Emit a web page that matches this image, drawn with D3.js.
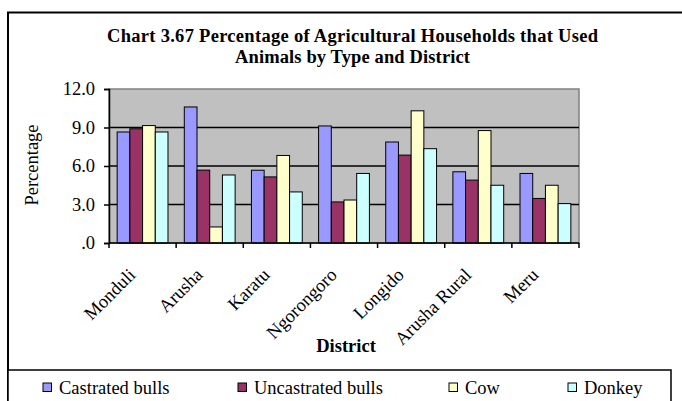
<!DOCTYPE html>
<html><head><meta charset="utf-8">
<script src="https://cdn.jsdelivr.net/npm/d3@7"></script>
<style>
html,body{margin:0;padding:0;background:#fff;}
svg{display:block;}
</style></head>
<body>
<svg id="chart" width="682" height="401" font-family="'Liberation Serif', 'Times New Roman', serif"></svg>
<script>
const categories = ["Monduli","Arusha","Karatu","Ngorongoro","Longido","Arusha Rural","Meru"];
const seriesNames = ["Castrated bulls","Uncastrated bulls","Cow","Donkey"];
const castratedBulls   = [8.65, 10.6, 5.67, 9.12, 7.87, 5.55, 5.42];
const uncastratedBulls = [8.9, 5.68, 5.15, 3.2, 6.85, 4.9, 3.47];
const cow              = [9.15, 1.25, 6.82, 3.35, 10.3, 8.76, 4.5];
const donkey           = [8.65, 5.3, 3.98, 5.42, 7.35, 4.5, 3.07];
const yTickValues = [0, 3, 6, 9, 12];
const yTickLabels = [".0", "3.0", "6.0", "9.0", "12.0"];
const colors = ["#9999FF", "#993366", "#FFFFCC", "#CCFFFF"];
const titleLines = ["Chart 3.67 Percentage of Agricultural Households that Used", "Animals by Type and District"];

const seriesValues = [castratedBulls, uncastratedBulls, cow, donkey];
const FONT = "'Liberation Serif', 'Times New Roman', serif";

const svg = d3.select("#chart");

// outer frame
svg.append("rect").attr("x", 8).attr("y", 12.5).attr("width", 700).attr("height", 400)
  .attr("fill", "#fff").attr("stroke", "#000").attr("stroke-width", 2);

// title
const title = svg.append("text").attr("text-anchor", "middle").attr("font-family", FONT)
  .attr("font-weight", "bold").attr("font-size", 18.5);
title.append("tspan").attr("x", 352.5).attr("y", 41.5)
  .attr("textLength", 491).attr("lengthAdjust", "spacing").text(titleLines[0]);
title.append("tspan").attr("x", 352.5).attr("y", 63)
  .attr("textLength", 235).attr("lengthAdjust", "spacing").text(titleLines[1]);

const plot = {left: 109, right: 579, top: 89, bottom: 243};

const x = d3.scaleBand().domain(categories).range([plot.left, plot.right]).padding(0);
const cw = x.bandwidth();
const xs = d3.scaleBand().domain(seriesNames).range([cw * 0.1215, cw * (1 - 0.1215)]).padding(0);
const y = d3.scaleLinear().domain([0, 12]).range([plot.bottom, plot.top]);

// plot background
svg.append("rect").attr("x", plot.left).attr("y", plot.top)
  .attr("width", plot.right - plot.left).attr("height", plot.bottom - plot.top)
  .attr("fill", "#C0C0C0").attr("stroke", "#808080").attr("stroke-width", 1.5);

// gridlines
svg.append("g").selectAll("line").data(yTickValues.filter(v => v > 0 && v < 12)).join("line")
  .attr("x1", plot.left).attr("x2", plot.right)
  .attr("y1", d => y(d)).attr("y2", d => y(d))
  .attr("stroke", "#000").attr("stroke-width", 1.5);

// bars
const groups = svg.append("g").selectAll("g").data(categories).join("g")
  .attr("transform", d => `translate(${x(d)},0)`);
groups.selectAll("rect").data((c, i) => seriesNames.map((s, j) => ({s, j, v: seriesValues[j][i]}))).join("rect")
  .attr("x", d => xs(d.s)).attr("width", xs.bandwidth())
  .attr("y", d => y(d.v)).attr("height", d => y(0) - y(d.v))
  .attr("fill", d => colors[d.j]).attr("stroke", "#000").attr("stroke-width", 1);

// y axis
const yAxis = d3.axisLeft(y).tickValues(yTickValues).tickSize(5).tickPadding(9)
  .tickFormat((d, i) => yTickLabels[i]);
const yg = svg.append("g").attr("transform", `translate(${plot.left},0)`).call(yAxis)
  .attr("font-family", FONT).attr("font-size", 18.5);
yg.select(".domain").attr("stroke", "#000").attr("stroke-width", 1.5);
yg.selectAll(".tick line").attr("stroke", "#000").attr("stroke-width", 1.5);
yg.selectAll(".tick text").attr("fill", "#000");

// x axis with ticks at category boundaries
const xg = svg.append("g").attr("transform", `translate(0,${plot.bottom})`)
  .attr("font-family", FONT).attr("font-size", 18.5);
xg.append("line").attr("x1", plot.left).attr("x2", plot.right).attr("y1", 0).attr("y2", 0)
  .attr("stroke", "#000").attr("stroke-width", 1.5);
const bounds = categories.map(c => x(c)).concat([plot.right]);
xg.selectAll("line.tk").data(bounds).join("line").attr("class", "tk")
  .attr("x1", d => d).attr("x2", d => d).attr("y1", 0).attr("y2", 5)
  .attr("stroke", "#000").attr("stroke-width", 1.5);
xg.selectAll("text").data(categories).join("text")
  .attr("text-anchor", "end")
  .attr("transform", d => `translate(${x(d) + cw / 2 - 6},33) rotate(-45)`)
  .text(d => d);

// axis titles
svg.append("text").attr("text-anchor", "middle").attr("font-size", 18.5).attr("font-family", FONT)
  .attr("transform", `translate(38,165) rotate(-90)`).text("Percentage");
svg.append("text").attr("text-anchor", "middle").attr("font-size", 18.5).attr("font-weight", "bold")
  .attr("font-family", FONT)
  .attr("x", (plot.left + plot.right) / 2 + 2).attr("y", 352).text("District");

// legend
svg.append("rect").attr("x", 8).attr("y", 370).attr("width", 663).attr("height", 40)
  .attr("fill", "#fff").attr("stroke", "#000").attr("stroke-width", 1.5);
const legendX = [43, 238, 449, 568];
const lg = svg.append("g").selectAll("g").data(seriesNames).join("g")
  .attr("transform", (d, i) => `translate(${legendX[i]},383)`);
lg.append("rect").attr("width", 8.5).attr("height", 8.5)
  .attr("fill", (d, i) => colors[i]).attr("stroke", "#000").attr("stroke-width", 1);
lg.append("text").attr("x", 16).attr("y", 10.5).attr("font-size", 18.5).attr("font-family", FONT).text(d => d);
</script>
</body></html>
